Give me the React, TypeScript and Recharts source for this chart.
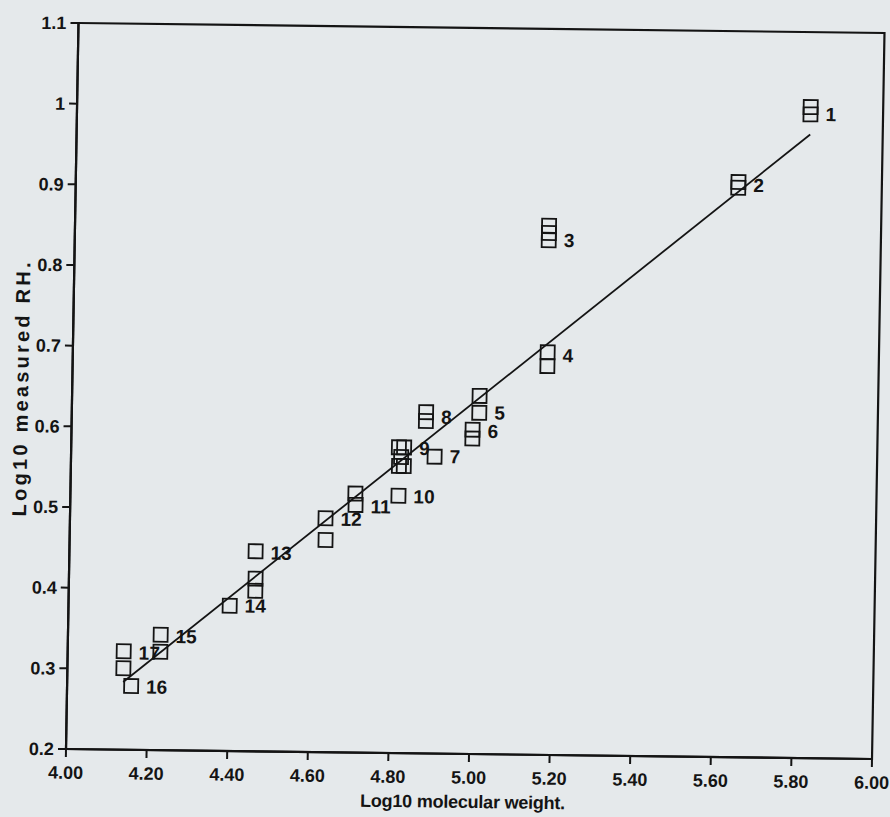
import React from "react";
import {
  ScatterChart,
  Scatter,
  XAxis,
  YAxis,
  ReferenceLine,
  ReferenceArea,
  Label,
} from "recharts";

// ---- data ----
const xTicks = [4.0, 4.2, 4.4, 4.6, 4.8, 5.0, 5.2, 5.4, 5.6, 5.8, 6.0];
const yTicks = [0.2, 0.3, 0.4, 0.5, 0.6, 0.7, 0.8, 0.9, 1.0, 1.1];

const logMW = [
  5.82, 5.82, 5.644, 5.644, 5.176, 5.176, 5.176, 5.178, 5.178, 5.011, 5.011,
  4.995, 4.995, 4.902, 4.879, 4.879, 4.813, 4.826, 4.819, 4.814, 4.826, 4.814,
  4.707, 4.708, 4.634, 4.635, 4.462, 4.463, 4.463, 4.4, 4.23, 4.23, 4.139,
  4.139, 4.159,
];
const logRH = [
  1.007, 0.998, 0.913, 0.906, 0.856, 0.847, 0.838, 0.699, 0.682, 0.644, 0.623,
  0.602, 0.591, 0.568, 0.623, 0.612, 0.579, 0.579, 0.567, 0.556, 0.556, 0.519,
  0.521, 0.507, 0.49, 0.463, 0.448, 0.414, 0.399, 0.38, 0.343, 0.322, 0.322,
  0.301, 0.279,
];

const labelText = ["1", "2", "3", "4", "5", "6", "7", "8", "9", "10", "11", "12", "13", "14", "15", "16", "17"];
const labelMW = [5.82, 5.644, 5.176, 5.178, 5.011, 4.995, 4.902, 4.879, 4.826, 4.814, 4.708, 4.634, 4.462, 4.4, 4.23, 4.159, 4.139];
const labelRH = [0.998, 0.909, 0.838, 0.695, 0.623, 0.6, 0.568, 0.617, 0.578, 0.518, 0.505, 0.489, 0.446, 0.38, 0.341, 0.278, 0.32];

const fitMW = [4.139, 5.82];
const fitRH = [0.284, 0.973];

const xTitle = "Log10 molecular weight.";
const yTitle = "Log10 measured RH.";

// ---- derived tables ----
const points = logMW.map((x, i) => ({ x, y: logRH[i] }));
const labels = labelText.map((t, i) => ({ x: labelMW[i], y: labelRH[i], t }));
const fitSegment = fitMW.map((x, i) => ({ x, y: fitRH[i] }));

const INK = "#141414";
const BG = "#e5e9eb";
const TICK_FONT = "'Liberation Sans', Arial, sans-serif";
const LABEL_FONT = "'Liberation Sans Narrow', 'Liberation Sans', Arial, sans-serif";

const SquareShape = (props: any) => {
  const { cx, cy } = props;
  if (cx == null || cy == null) return null;
  return (
    <rect
      x={cx - 7}
      y={cy - 7}
      width={14}
      height={14}
      fill="none"
      stroke={INK}
      strokeWidth={1.8}
    />
  );
};

const LabelShape = (props: any) => {
  const { cx, cy, payload } = props;
  if (cx == null || cy == null) return null;
  return (
    <text
      x={cx + 15}
      y={cy}
      dominantBaseline="central"
      fontFamily={LABEL_FONT}
      fontWeight="bold"
      fontSize={19}
      fill={INK}
    >
      {payload.t}
    </text>
  );
};

const XTitle = (props: any) => {
  const vb = props.viewBox || { x: 66, y: 749, width: 806 };
  return (
    <text
      x={vb.x + vb.width / 2 - 5.5}
      y={803}
      textAnchor="middle"
      fontFamily={TICK_FONT}
      fontWeight="bold"
      fontSize={18}
      fill={INK}
      textLength={205}
      lengthAdjust="spacing"
    >
      {xTitle}
    </text>
  );
};

const YTitle = () => {
  const cx = 15;
  const cy = 390;
  return (
    <text
      x={cx}
      y={cy}
      transform={`rotate(-90, ${cx}, ${cy})`}
      textAnchor="middle"
      dominantBaseline="central"
      fontFamily={TICK_FONT}
      fontWeight="bold"
      fontSize={20}
      fill={INK}
      textLength={254}
      lengthAdjust="spacing"
    >
      {yTitle}
    </text>
  );
};

const fmtY = (v: number) => String(Number(v.toFixed(1)));
const fmtX = (v: number) => v.toFixed(2);

const tickStyle = { fill: INK, fontSize: 18, fontWeight: "bold", fontFamily: TICK_FONT };

export default function App() {
  return (
    <div
      style={{
        position: "absolute",
        left: 0,
        top: 0,
        width: 890,
        height: 817,
        background: BG,
        overflow: "hidden",
      }}
    >
      <style>{`body{margin:0;background:${BG};}`}</style>
      <div
        style={{
          width: 890,
          height: 817,
          transform: "matrix(1, 0.0124, -0.0172, 1, 0, 0)",
          transformOrigin: "66px 749px",
        }}
      >
        <ScatterChart
          width={890}
          height={817}
          margin={{ top: 23, right: 18, bottom: 0, left: 0 }}
        >
          <XAxis
            type="number"
            dataKey="x"
            domain={[4, 6]}
            ticks={xTicks}
            tickFormatter={fmtX}
            interval={0}
            height={68}
            tickSize={8}
            tickMargin={9}
            axisLine={{ stroke: INK, strokeWidth: 2.2 }}
            tickLine={{ stroke: INK, strokeWidth: 2 }}
            tick={tickStyle}
            allowDataOverflow
          >
            <Label content={<XTitle />} />
          </XAxis>
          <YAxis
            type="number"
            dataKey="y"
            domain={[0.2, 1.1]}
            ticks={yTicks}
            tickFormatter={fmtY}
            interval={0}
            width={66}
            tickSize={8}
            tickMargin={4}
            axisLine={{ stroke: INK, strokeWidth: 2.2 }}
            tickLine={{ stroke: INK, strokeWidth: 2 }}
            tick={tickStyle}
            allowDataOverflow
          >
            <Label content={<YTitle />} />
          </YAxis>
          <ReferenceArea
            x1={4}
            x2={6}
            y1={0.2}
            y2={1.1}
            fill="none"
            fillOpacity={0}
            stroke={INK}
            strokeWidth={2.2}
            ifOverflow="visible"
          />
          <ReferenceLine
            segment={fitSegment}
            stroke={INK}
            strokeWidth={1.8}
            ifOverflow="visible"
          />
          <Scatter
            data={points}
            shape={<SquareShape />}
            isAnimationActive={false}
          />
          <Scatter
            data={labels}
            shape={<LabelShape />}
            isAnimationActive={false}
          />
        </ScatterChart>
      </div>
    </div>
  );
}
